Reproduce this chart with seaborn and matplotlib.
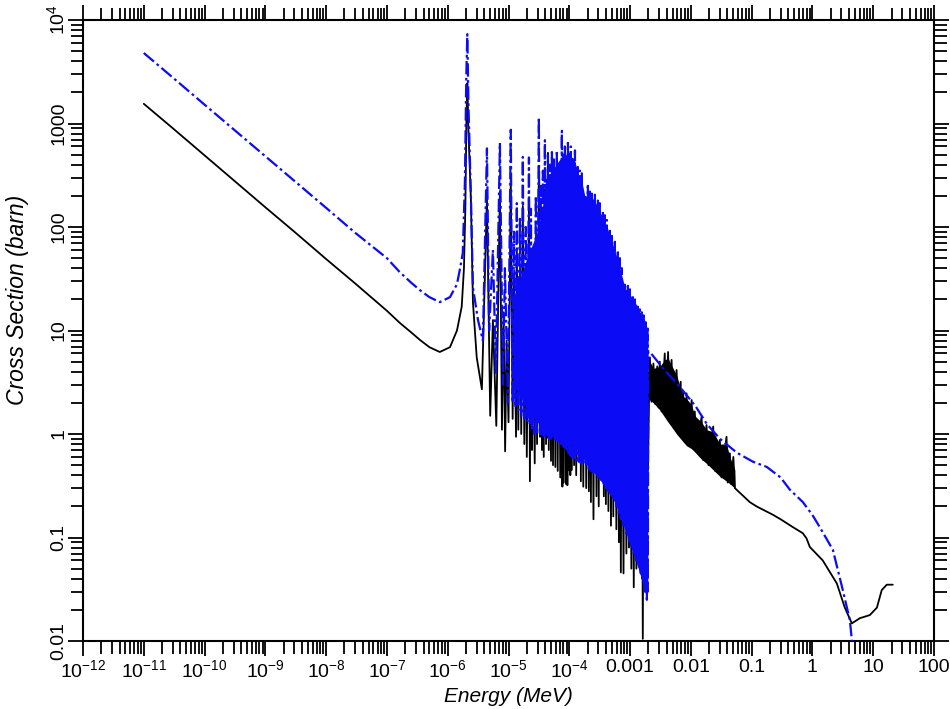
import numpy as np
import matplotlib
matplotlib.use("Agg")
import matplotlib.pyplot as plt
from matplotlib.ticker import LogLocator, NullFormatter
import seaborn as sns

# ---------------- data ----------------
# blue (dash-dot) cross section: energy (MeV) and cross section (barn)
blue_energy = [
    1e-11, 3e-11, 1e-10, 3e-10, 1e-9, 3e-9, 1e-8, 3e-8, 1e-7, 1.6e-7, 2.5e-7, 3.5e-7,
    5e-7, 7.4e-7, 1.09e-6, 1.42e-6, 1.6e-6, 1.77e-6, 1.92e-6, 2.02e-6, 2.1e-6, 2.2e-6,
    2.41e-6, 2.6e-6, 3.15e-6, 3.79e-6,
    4.42e-6, 4.8e-6, 5.54e-6, 6.2e-6, 7.22e-6, 8.1e-6, 8.73e-6, 9.78e-6, 1.09e-5, 1.17e-5,
    1.23e-5, 1.3e-5, 1.37e-5, 1.45e-5, 1.54e-5, 1.63e-5, 1.72e-5, 1.82e-5, 1.93e-5, 2.05e-5,
    2.17e-5, 2.25e-5, 2.34e-5, 2.43e-5, 2.52e-5, 2.65e-5, 2.82e-5, 2.95e-5, 3.16e-5, 3.3e-5,
    3.41e-5, 3.55e-5, 3.68e-5, 3.8e-5, 3.97e-5, 4.1e-5, 4.28e-5, 4.36e-5, 4.45e-5, 4.6e-5,
    4.8e-5, 5.0e-5, 5.18e-5, 5.4e-5, 5.58e-5, 5.9e-5, 6.25e-5, 6.5e-5, 6.75e-5, 7.1e-5,
    7.55e-5, 7.7e-5, 7.85e-5, 8.1e-5, 8.47e-5, 8.8e-5, 9.14e-5, 9.3e-5, 9.5e-5, 9.8e-5,
    1.02e-4, 1.04e-4, 1.06e-4, 1.1e-4, 1.15e-4, 1.2e-4, 1.24e-4, 1.3e-4, 1.38e-4, 1.43e-4,
    1.49e-4, 1.55e-4, 1.61e-4, 1.7e-4, 1.81e-4, 1.9e-4, 2.02e-4, 2.1e-4, 2.18e-4, 2.27e-4,
    2.35e-4, 2.5e-4, 2.64e-4, 2.8e-4, 2.95e-4, 3.05e-4, 3.18e-4, 3.35e-4, 3.57e-4, 3.7e-4,
    3.85e-4, 4.0e-4, 4.15e-4, 4.4e-4, 4.66e-4, 4.85e-4, 5.02e-4, 5.3e-4, 5.62e-4, 5.95e-4,
    6.3e-4, 6.55e-4, 6.8e-4, 7.05e-4, 7.33e-4, 7.8e-4, 8.2e-4, 8.7e-4, 9.2e-4, 9.6e-4,
    9.93e-4, 1.05e-3, 1.11e-3, 1.15e-3, 1.2e-3, 1.27e-3, 1.34e-3, 1.4e-3, 1.45e-3, 1.5e-3,
    1.56e-3, 1.6e-3, 1.68e-3, 1.75e-3, 1.82e-3, 1.89e-3, 1.93e-3, 1.96e-3, 2.0e-3,
    2.12e-3, 3.5e-3, 6.6e-3, 0.012, 0.0183, 0.03, 0.057, 0.105, 0.178, 0.3, 0.425,
    0.695, 1.0, 1.32, 2.17, 3.16, 4.12, 4.6,
]
blue_xs = [
    4800, 2780, 1520, 880, 482, 279, 153, 88, 50, 37, 29, 24.5,
    21, 18.8, 21, 28, 40, 56, 280, 2800, 7300, 1400,
    195, 26, 12.6, 8,
    575, 10, 60, 3.9, 650, 3.0, 40, 2.0, 870, 2.0,
    90, 1.8, 170, 1.7, 120, 1.5, 475, 1.4, 100, 1.3,
    470, 1.2, 150, 1.1, 56, 1.0, 200, 1.0, 1150, 1.0,
    250, 0.95, 350, 0.93, 690, 0.93, 300, 1.0, 500, 0.9,
    400, 0.9, 530, 0.9, 450, 0.88, 550, 0.85, 300, 0.8,
    850, 0.8, 500, 0.75, 600, 0.7, 450, 0.7, 650, 0.65,
    500, 0.62, 600, 0.6, 450, 0.58, 550, 0.56, 380, 0.54,
    350, 0.52, 330, 0.5, 195, 0.48, 250, 0.46, 220, 0.44,
    210, 0.42, 205, 0.4, 180, 0.38, 170, 0.36, 140, 0.33,
    130, 0.3, 117, 0.28, 95, 0.26, 85, 0.24, 72, 0.2,
    60, 0.17, 50, 0.15, 40, 0.13, 29, 0.11, 27, 0.09,
    25, 0.08, 22, 0.07, 21, 0.06, 17, 0.05, 16, 0.045,
    15, 0.04, 14, 0.03, 12, 0.025, 11, 0.03, 6.3,
    6.2, 4.3, 2.85, 1.85, 1.25, 0.9, 0.66, 0.54, 0.48, 0.38, 0.29,
    0.22, 0.165, 0.126, 0.076, 0.031, 0.016, 0.0085,
]

# black (solid) cross section
black_energy = [
    1e-11, 3e-11, 1e-10, 3e-10, 1e-9, 3e-9, 1e-8, 3e-8, 1e-7, 1.64e-7, 2.5e-7, 3.5e-7,
    5e-7, 7.4e-7, 1.09e-6, 1.42e-6, 1.7e-6, 1.85e-6, 1.95e-6, 2.03e-6, 2.1e-6, 2.2e-6,
    2.41e-6, 2.6e-6, 3.0e-6, 3.65e-6,
    4.42e-6, 5.0e-6, 5.54e-6, 6.3e-6, 7.22e-6, 7.8e-6, 8.3e-6, 8.8e-6, 9.3e-6, 1.0e-5,
    1.09e-5, 1.17e-5, 1.23e-5, 1.33e-5, 1.37e-5, 1.45e-5, 1.54e-5, 1.62e-5, 1.72e-5, 1.82e-5,
    1.93e-5, 2.0e-5, 2.17e-5, 2.25e-5, 2.34e-5, 2.43e-5, 2.52e-5, 2.7e-5, 2.82e-5, 2.95e-5,
    3.16e-5, 3.3e-5, 3.41e-5, 3.55e-5, 3.68e-5, 3.8e-5, 3.97e-5, 4.15e-5, 4.28e-5, 4.36e-5,
    4.45e-5, 4.6e-5, 4.8e-5, 5.0e-5, 5.18e-5, 5.4e-5, 5.58e-5, 5.9e-5, 6.25e-5, 6.45e-5,
    6.75e-5, 7.1e-5, 7.55e-5, 7.7e-5, 7.85e-5, 8.1e-5, 8.47e-5, 8.8e-5, 9.14e-5, 9.3e-5,
    9.5e-5, 9.8e-5, 1.02e-4, 1.04e-4, 1.06e-4, 1.1e-4, 1.15e-4, 1.2e-4, 1.24e-4, 1.3e-4,
    1.38e-4, 1.43e-4, 1.49e-4, 1.55e-4, 1.61e-4, 1.7e-4, 1.81e-4, 1.9e-4, 2.02e-4, 2.1e-4,
    2.18e-4, 2.27e-4, 2.35e-4, 2.5e-4, 2.64e-4, 2.8e-4, 2.95e-4, 3.05e-4, 3.18e-4, 3.35e-4,
    3.57e-4, 3.7e-4, 3.85e-4, 4.0e-4, 4.15e-4, 4.4e-4, 4.66e-4, 4.85e-4, 5.02e-4, 5.3e-4,
    5.62e-4, 5.95e-4, 6.3e-4, 6.55e-4, 6.8e-4, 7.05e-4, 7.33e-4, 7.8e-4, 8.2e-4, 8.7e-4,
    9.2e-4, 9.6e-4, 9.93e-4, 1.05e-3, 1.11e-3, 1.15e-3, 1.2e-3, 1.27e-3, 1.34e-3, 1.4e-3,
    1.45e-3, 1.52e-3, 1.56e-3, 1.62e-3, 1.68e-3, 1.75e-3, 1.82e-3, 1.89e-3, 1.93e-3, 1.97e-3,
    2.05e-3, 2.12e-3, 2.25e-3, 2.42e-3, 2.6e-3, 2.8e-3, 2.95e-3, 3.08e-3, 3.3e-3, 3.72e-3,
    3.9e-3, 4.22e-3, 4.5e-3, 4.82e-3, 5.1e-3, 5.82e-3, 6.3e-3, 6.8e-3, 7.1e-3, 7.46e-3,
    8.0e-3, 8.49e-3, 9.0e-3, 1.03e-2, 1.08e-2, 1.16e-2, 1.25e-2, 1.5e-2, 1.6e-2, 1.81e-2,
    1.95e-2, 2.33e-2, 2.5e-2, 3.0e-2, 3.2e-2, 3.86e-2, 4.05e-2, 4.38e-2, 4.6e-2, 5.0e-2,
    5.3e-2, 9.3e-2, 0.12, 0.223, 0.3, 0.476, 0.695, 0.8, 0.906, 1.48, 2.52, 3.41, 4.45,
    6.02, 8.8, 11.5, 13.8, 16.7, 21.0,
]
black_xs = [
    1550, 900, 492, 284, 155, 90, 49, 28.5, 15.5, 11.8, 9.6, 8.1,
    6.9, 6.2, 6.9, 10, 17, 40, 150, 1080, 2450, 800,
    183, 18.7, 5.5, 2.7,
    190, 1.5, 12.6, 1.2, 220, 1.1, 15, 0.68, 8, 1.3,
    300, 1.4, 30, 0.94, 60, 1.1, 40, 1.0, 160, 0.8,
    35, 0.6, 160, 0.35, 50, 0.7, 20, 0.52, 70, 0.8,
    380, 0.94, 80, 0.7, 120, 0.6, 230, 0.8, 100, 0.93,
    520, 0.7, 130, 0.55, 180, 0.5, 150, 0.48, 180, 0.44,
    100, 0.38, 280, 0.31, 170, 0.34, 200, 0.33, 150, 0.32,
    220, 0.45, 170, 0.4, 200, 0.45, 150, 0.5, 180, 0.4,
    130, 0.56, 120, 0.35, 110, 0.31, 70, 0.3, 80, 0.28,
    75, 0.22, 70, 0.15, 70, 0.25, 60, 0.2, 55, 0.42,
    45, 0.25, 42, 0.21, 40, 0.18, 32, 0.13, 28, 0.16,
    25, 0.12, 20, 0.09, 17, 0.046, 14, 0.045, 10, 0.07,
    9, 0.08, 8, 0.05, 7.5, 0.033, 7, 0.05, 6, 0.057,
    5.5, 0.045, 5, 0.0105, 4.8, 0.06, 4.5, 0.1, 4, 0.45,
    2.2, 5.5, 2.05, 4.8, 1.95, 4.5, 1.8, 5.0, 1.65, 6.0,
    1.5, 6.2, 1.35, 5.2, 1.18, 4.15, 1.05, 3.2, 0.95, 2.57,
    0.88, 2.47, 0.8, 2.13, 0.72, 1.65, 0.68, 1.47, 0.56, 1.22,
    0.5, 1.18, 0.44, 0.875, 0.38, 0.94, 0.34, 0.65, 0.33, 0.6,
    0.30, 0.22, 0.2, 0.166, 0.15, 0.126, 0.11, 0.098, 0.081, 0.060, 0.036, 0.021, 0.0148,
    0.0166, 0.0178, 0.021, 0.031, 0.035, 0.035,
]

# solid-looking dense resonance areas (envelopes)
blue_band_energy = [1.2e-5, 2.0e-5, 3.0e-5, 4.5e-5, 6e-5, 8e-5, 1.0e-4, 1.2e-4, 1.4e-4,
                    1.6e-4, 1.8e-4, 2.2e-4, 2.6e-4, 3.2e-4, 3.6e-4, 4.2e-4, 4.7e-4, 5.6e-4,
                    6.8e-4, 8.2e-4, 1.0e-3, 1.2e-3, 1.45e-3, 1.75e-3, 1.96e-3]
blue_band_high = [20, 50, 90, 300, 400, 500, 500, 450, 330,
                  280, 200, 200, 180, 140, 120, 100, 80, 60,
                  40, 26, 22, 19, 15, 12.5, 10]
blue_band_low = [3.0, 1.8, 1.3, 1.0, 0.9, 0.85, 0.8, 0.75, 0.7,
                 0.62, 0.55, 0.48, 0.42, 0.36, 0.33, 0.28, 0.26, 0.22,
                 0.17, 0.12, 0.085, 0.064, 0.045, 0.03, 0.03]

black_band_energy = [2.0e-3, 2.12e-3, 2.42e-3, 3.08e-3, 3.72e-3, 4.22e-3, 4.82e-3, 5.82e-3,
                     7.46e-3, 8.49e-3, 1.03e-2, 1.16e-2, 1.5e-2, 1.81e-2, 2.33e-2, 3.0e-2,
                     3.86e-2, 4.38e-2, 5.3e-2]
black_band_high = [4.5, 5.0, 4.3, 4.5, 5.2, 5.4, 4.6, 3.7, 2.3, 2.2, 1.9, 1.5, 1.3, 1.1,
                   1.05, 0.8, 0.8, 0.6, 0.45]
black_band_low = [2.2, 2.13, 2.0, 1.71, 1.45, 1.3, 1.17, 1.0, 0.84, 0.77, 0.72, 0.67, 0.57,
                  0.52, 0.45, 0.39, 0.35, 0.33, 0.30]

x_tick_values = [1e-12, 1e-11, 1e-10, 1e-9, 1e-8, 1e-7, 1e-6, 1e-5, 1e-4, 1e-3, 1e-2, 1e-1,
                 1e0, 1e1, 1e2]
x_tick_labels = [r"$10^{-12}$", r"$10^{-11}$", r"$10^{-10}$", r"$10^{-9}$", r"$10^{-8}$",
                 r"$10^{-7}$", r"$10^{-6}$", r"$10^{-5}$", r"$10^{-4}$", "0.001", "0.01",
                 "0.1", "1", "10", "100"]
y_tick_values = [1e-2, 1e-1, 1e0, 1e1, 1e2, 1e3, 1e4]
y_tick_labels = ["0.01", "0.1", "1", "10", "100", "1000", r"$10^{4}$"]

# ---------------- drawing ----------------
sns.set_theme(style="ticks")
plt.rcParams["font.family"] = ["Liberation Sans", "DejaVu Sans"]
plt.rcParams["mathtext.fontset"] = "custom"
plt.rcParams["mathtext.rm"] = "Liberation Sans"
plt.rcParams["mathtext.it"] = "Liberation Sans:italic"
plt.rcParams["mathtext.default"] = "regular"

fig = plt.figure(figsize=(9.5, 7.09), dpi=100)
fig.patch.set_facecolor("white")
ax = fig.add_axes([83 / 950, 1 - 641 / 709, (934 - 83) / 950, (641 - 20) / 709])
ax.set_facecolor("white")
ax.set_xscale("log")
ax.set_yscale("log")

ax.fill_between(black_band_energy, black_band_low, black_band_high,
                color="black", lw=0, zorder=1)
sns.lineplot(x=black_energy, y=black_xs, color="black", linewidth=1.3,
             sort=False, estimator=None, ax=ax, zorder=2)
ax.fill_between(blue_band_energy, blue_band_low, blue_band_high,
                color="#0b0bf5", lw=0, zorder=3, alpha=1.0)
sns.lineplot(x=blue_energy, y=blue_xs, color="#0b0bf5", linewidth=1.6,
             linestyle=(0, (6, 1.6, 1.2, 1.6)),
             sort=False, estimator=None, ax=ax, zorder=4)

ax.set_xlim(1e-12, 1e2)
ax.set_ylim(1e-2, 1e4)

ax.set_xticks(x_tick_values, labels=x_tick_labels)
ax.set_yticks(y_tick_values, labels=y_tick_labels, rotation=90, va="center")
ax.xaxis.set_minor_locator(LogLocator(base=10, subs=np.arange(2, 10), numticks=200))
ax.yaxis.set_minor_locator(LogLocator(base=10, subs=np.arange(2, 10), numticks=200))
ax.xaxis.set_minor_formatter(NullFormatter())
ax.yaxis.set_minor_formatter(NullFormatter())

ax.tick_params(which="both", direction="out", top=True, right=True,
               labeltop=False, labelright=False, color="black", width=1.3,
               labelsize=14, labelcolor="black")
ax.tick_params(which="major", length=11)
ax.tick_params(which="minor", length=9)
ax.tick_params(axis="x", which="major", pad=2)
ax.tick_params(axis="y", which="major", pad=0)

for sp in ax.spines.values():
    sp.set_visible(True)
    sp.set_color("black")
    sp.set_linewidth(1.5)

ax.set_xlabel("Energy (MeV)", fontsize=15, style="italic", color="black")
ax.set_ylabel("Cross Section (barn)", fontsize=16.5, style="italic", color="black")
ax.xaxis.set_label_coords(0.5, -0.074)
ax.yaxis.set_label_coords(-0.064, 0.55)
ax.grid(False)

fig.savefig("out.png", dpi=100, facecolor="white")
